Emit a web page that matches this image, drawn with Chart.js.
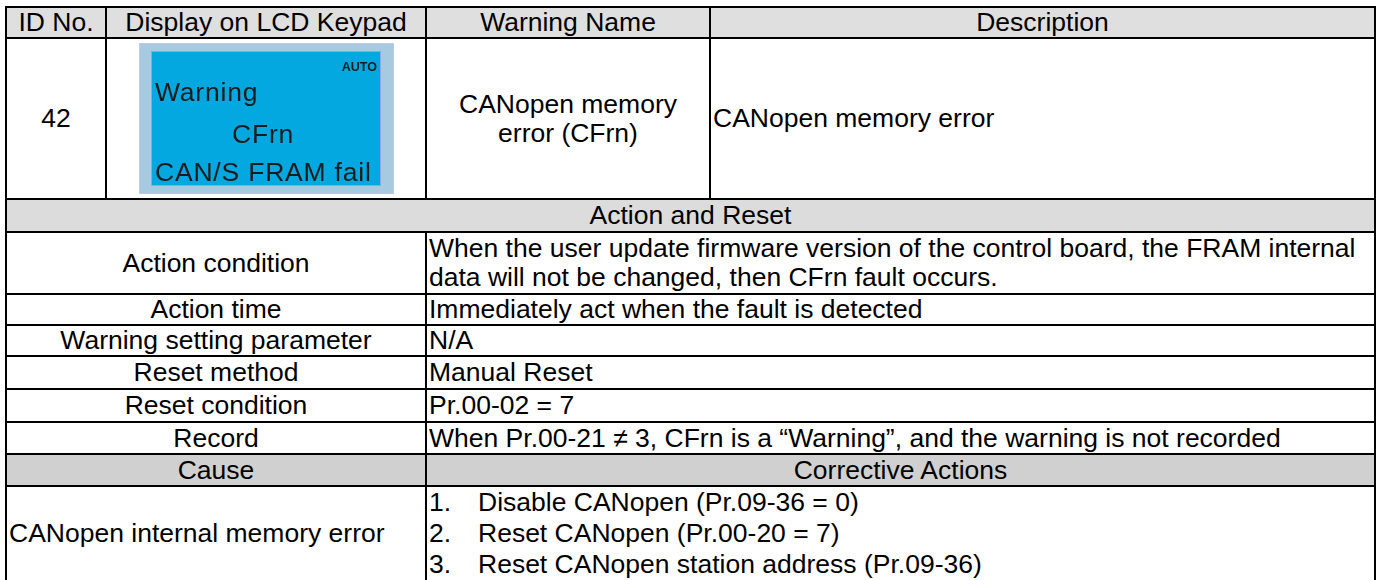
<!DOCTYPE html>
<html>
<head>
<meta charset="utf-8">
<script src="https://cdn.jsdelivr.net/npm/chart.js@4.4.1/dist/chart.umd.min.js"></script>
<style>
    body { margin: 0; background: #fff; width: 1377px; height: 580px; overflow: hidden; }
    table {
        position: absolute; left: 5px; top: 6px;
        border-collapse: collapse; table-layout: fixed;
        font-family: 'Liberation Sans', Arial, sans-serif; font-size: 26.5px; color: #000;
    }
    td {
        border: 2px solid #000; padding: 0 2px; line-height: 29px;
        vertical-align: middle; white-space: nowrap; overflow: hidden;
    }
    .c { text-align: center; }
    .l { text-align: left; }
    .head td { background: #dfdfdf; }
    .section td { background: #dcdcdc; }
    .cause td { background: #d0d0d0; }
    td.lcd { line-height: 0; padding: 0; text-align: center; }
    .lcdBox { display: inline-block; vertical-align: middle; width: 255px; height: 151px; }
    .num { display: inline-block; width: 49px; }
    .list { line-height: 31px; }
</style>
</head>
<body>
<table id="tbl">
    <colgroup>
        <col style="width:100px"><col style="width:320px"><col style="width:284px"><col style="width:665px">
    </colgroup>
    <tbody></tbody>
</table>
<script>
// 表头
const headers = ['ID No.', 'Display on LCD Keypad', 'Warning Name', 'Description'];

// 警告内容
const warningId = '42';
const lcdMode = 'AUTO';
const lcdLines = ['Warning', 'CFrn', 'CAN/S FRAM fail'];
const warningName = ['CANopen memory', 'error (CFrn)'];
const description = 'CANopen memory error';

// 动作与复位
const sectionTitle = 'Action and Reset';
const actionLabels = ['Action condition', 'Action time', 'Warning setting parameter',
    'Reset method', 'Reset condition', 'Record'];
const actionValues = [
    ['When the user update firmware version of the control board, the FRAM internal',
     'data will not be changed, then CFrn fault occurs.'],
    ['Immediately act when the fault is detected'],
    ['N/A'],
    ['Manual Reset'],
    ['Pr.00-02 = 7'],
    ['When Pr.00-21 \u2260 3, CFrn is a \u201cWarning\u201d, and the warning is not recorded']
];

// 原因与处理
const causeHeaders = ['Cause', 'Corrective Actions'];
const causeText = 'CANopen internal memory error';
const correctiveActions = ['Disable CANopen (Pr.09-36 = 0)', 'Reset CANopen (Pr.00-20 = 7)',
    'Reset CANopen station address (Pr.09-36)'];

// 行高 (px)
const headHeight = 31;
const mainHeight = 161;
const sectionHeight = 33;
const actionHeights = [62, 31, 31, 33, 33, 32];
const causeHeight = 32;
const lastHeight = 93;

const tbody = document.querySelector('#tbl tbody');

function addRow(cls, height, cells) {
    const tr = document.createElement('tr');
    if (cls) tr.className = cls;
    tr.style.height = height + 'px';
    cells.forEach(c => {
        const td = document.createElement('td');
        if (c.span) td.colSpan = c.span;
        td.className = c.cls || 'c';
        if (c.html !== undefined) td.innerHTML = c.html;
        else td.textContent = c.text;
        tr.appendChild(td);
    });
    tbody.appendChild(tr);
    return tr;
}

const esc = s => s.replace(/&/g, '&amp;').replace(/</g, '&lt;');

addRow('head', headHeight, headers.map(h => ({ text: h })));

addRow('', mainHeight, [
    { text: warningId },
    { html: '<div class="lcdBox"><canvas id="lcd" width="255" height="151"></canvas></div>', cls: 'lcd' },
    { html: warningName.map(esc).join('<br>'), cls: 'c' },
    { text: description, cls: 'l' }
]);

addRow('section', sectionHeight, [{ text: sectionTitle, span: 4 }]);

actionLabels.forEach((label, i) => {
    addRow('', actionHeights[i], [
        { text: label, span: 2 },
        { html: actionValues[i].map(esc).join('<br>'), span: 2, cls: 'l' }
    ]);
});

addRow('cause', causeHeight, causeHeaders.map(t => ({ text: t, span: 2 })));

addRow('', lastHeight, [
    { text: causeText, span: 2, cls: 'l' },
    { html: correctiveActions.map((t, i) => '<span class="num">' + (i + 1) + '.</span>' + esc(t)).join('<br>'), span: 2, cls: 'l list' }
]);

// LCD 面板
const lcdPanel = {
    id: 'lcdPanel',
    beforeDraw(chart) {
        const { ctx, width, height } = chart;
        ctx.save();
        ctx.fillStyle = '#a6cadf';
        ctx.fillRect(0, 0, width, height);
        ctx.strokeStyle = '#c6c6e6';
        ctx.lineWidth = 1;
        ctx.strokeRect(0.5, 0.5, width - 1, height - 1);
        ctx.fillStyle = '#04a8e0';
        ctx.fillRect(12, 8, width - 25, height - 16);
        ctx.strokeStyle = '#8ea8d8';
        ctx.strokeRect(12.5, 8.5, width - 26, height - 17);
        ctx.restore();
    },
    afterDraw(chart) {
        const { ctx, width } = chart;
        ctx.save();
        ctx.fillStyle = '#1b1b1b';
        ctx.textBaseline = 'alphabetic';
        ctx.font = 'bold 12.5px "Liberation Sans", Arial, sans-serif';
        ctx.textAlign = 'right';
        ctx.fillText(lcdMode, width - 17, 28);
        ctx.font = '26.5px "Liberation Sans", Arial, sans-serif';
        ctx.letterSpacing = '0.8px';
        ctx.textAlign = 'left';
        ctx.fillText(lcdLines[0], 16, 58);
        ctx.textAlign = 'center';
        ctx.fillText(lcdLines[1], 124, 100);
        ctx.textAlign = 'left';
        ctx.fillText(lcdLines[2], 16, 137.5);
        ctx.restore();
    }
};

new Chart(document.getElementById('lcd'), {
    type: 'scatter',
    data: { datasets: [] },
    options: {
        responsive: false,
        animation: false,
        events: [],
        layout: { padding: 0 },
        plugins: { legend: { display: false }, tooltip: { enabled: false }, title: { display: false } },
        scales: { x: { display: false }, y: { display: false } }
    },
    plugins: [lcdPanel]
});
</script>
</body>
</html>
